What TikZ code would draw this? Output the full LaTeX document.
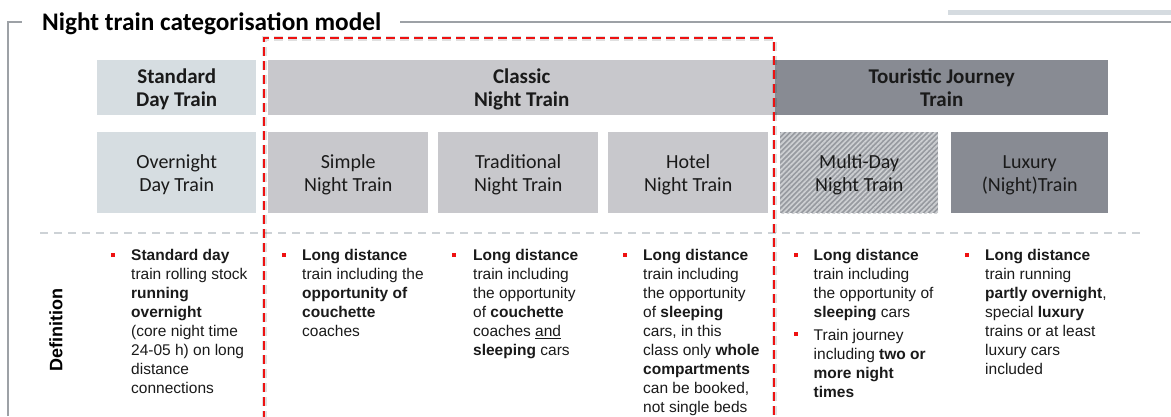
\documentclass[tikz,border=0pt]{standalone}
\usepackage{fontspec}
\setmainfont{Liberation Sans}
\newfontfamily\boxfont{Carlito}
\usetikzlibrary{patterns.meta}
\definecolor{framegray}{HTML}{9DA1A6}
\definecolor{barlight}{HTML}{D5DBE0}
\definecolor{stdfill}{HTML}{D6DDE1}
\definecolor{classicfill}{HTML}{C8C8CC}
\definecolor{tourfill}{HTML}{888B93}
\definecolor{hatchbase}{HTML}{979AA0}
\definecolor{hatchline}{HTML}{CDCFD2}
\definecolor{sepgray}{HTML}{CDD2D6}
\definecolor{redline}{HTML}{EE1111}
\definecolor{txt}{HTML}{1A1A1A}
\newcommand{\toppad}{\rule{0pt}{18pt}}
\tikzset{
  catbox/.style={anchor=north west, inner sep=0pt, minimum height=55pt, align=center,
    text=txt, font=\boxfont\bfseries\fontsize{21}{23}\selectfont},
  subbox/.style={anchor=north west, inner sep=0pt, minimum height=81pt, align=center,
    text=txt, font=\boxfont\fontsize{20}{23}\selectfont},
  bodytext/.style={anchor=north west, inner sep=0pt, align=left, text=txt,
    font=\fontsize{15.5}{19}\selectfont},
  bulletsq/.style={fill=redline, minimum size=4pt, inner sep=0pt},
}
\begin{document}
\begin{tikzpicture}[x=1pt,y=-1pt]
\useasboundingbox (0,0) rectangle (1171,416);
% frame
\coordinate (fa) at (8,416);
\coordinate (fb) at (8,22);
\coordinate (fc) at (22,22);
\draw[framegray, line width=1.5pt] (fa) -- (fb) -- (fc);
\node[anchor=base west, inner sep=0pt, text=black, font=\boxfont\bfseries\fontsize{25.3}{30}\selectfont] (title) at (42,30) {Night train categorisation model};
\coordinate (tl1) at (400,22);
\coordinate (tl2) at (1171,22);
\draw[framegray, line width=1.5pt] (tl1) -- (tl2);
\coordinate (bar1) at (948,12);
\coordinate (bar2) at (1171,12);
\draw[barlight, line width=5pt] (bar1) -- (bar2);
% row 1
\node[catbox, fill=stdfill, minimum width=159pt] (std) at (97,60) {\toppad Standard\\Day Train};
\node[catbox, fill=classicfill, minimum width=507pt] (classic) at (268,60) {\toppad Classic\\Night Train};
\node[catbox, fill=tourfill, minimum width=333pt] (tour) at (775,60) {\toppad Touristic Journey\\Train\vphantom{y}};
% row 2
\node[subbox, fill=stdfill, minimum width=159pt] (ovn) at (97,132) {\toppad Overnight\\Day Train};
\node[subbox, fill=classicfill, minimum width=160pt] (simple) at (268,132) {\toppad Simple\\Night Train};
\node[subbox, fill=classicfill, minimum width=160pt] (trad) at (438,132) {\toppad Traditional\\Night Train};
\node[subbox, fill=classicfill, minimum width=160pt] (hotel) at (608,132) {\toppad Hotel\\Night Train};
\node[subbox, fill=hatchbase, minimum width=158pt,
  postaction={pattern={Lines[angle=45,distance=3.6pt,line width=1.7pt]}, pattern color=hatchline}] (multi) at (780,132) {\toppad Multi-Day\\Night Train};
\node[subbox, fill=tourfill, minimum width=157pt] (lux) at (951,132) {\toppad Luxury\\(Night)Train};
% separator
\coordinate (s1) at (40,233);
\coordinate (s2) at (1140,233);
\draw[sepgray, line width=2pt, dash pattern=on 8pt off 6pt] (s1) -- (s2);
% red dashed frame with shadow
\coordinate (r1) at (264,420);
\coordinate (r2) at (264,38);
\coordinate (r3) at (774,38);
\coordinate (r4) at (774,420);
\draw[black, opacity=0.12, line width=5pt, dash pattern=on 9pt off 5pt, xshift=2.5pt, yshift=-2.5pt] (r1) -- (r2) -- (r3) -- (r4);
\draw[redline, line width=2.6pt, dash pattern=on 9pt off 5pt] (r1) -- (r2) -- (r3) -- (r4);
% Definition label
\node[rotate=90, inner sep=0pt, text=black, font=\bfseries\fontsize{18}{20}\selectfont] (def) at (56,330) {Definition};
% bullets
\node[bulletsq] (b1) at (113,254.5) {};
\node[bulletsq] (b2) at (284,254.5) {};
\node[bulletsq] (b3) at (454,254.5) {};
\node[bulletsq] (b4) at (625,254.5) {};
\node[bulletsq] (b5) at (796,254.5) {};
\node[bulletsq] (b5b) at (796,334) {};
\node[bulletsq] (b6) at (967,254.5) {};
% texts
\node[bodytext] (t1) at (131,249.5) {\textbf{Standard day}\\train rolling stock\\\textbf{running}\\\textbf{overnight}\\(core night time\\24-05 h) on long\\distance\\connections};
\node[bodytext] (t2) at (302,249.5) {\textbf{Long distance}\\train including the\\\textbf{opportunity of}\\\textbf{couchette}\\coaches};
\node[bodytext] (t3) at (473,249.5) {\textbf{Long distance}\\train including\\the opportunity\\of \textbf{couchette}\\coaches \underline{and}\\\textbf{sleeping} cars};
\node[bodytext] (t4) at (643,249.5) {\textbf{Long distance}\\train including\\the opportunity\\of \textbf{sleeping}\\cars, in this\\class only \textbf{whole}\\\textbf{compartments}\\can be booked,\\not single beds};
\node[bodytext] (t5) at (813.5,249.5) {\textbf{Long distance}\\train including\\the opportunity of\\\textbf{sleeping} cars};
\node[bodytext] (t5b) at (813.5,329) {Train journey\\including \textbf{two or}\\\textbf{more night}\\\textbf{times}};
\node[bodytext] (t6) at (985,249.5) {\textbf{Long distance}\\train running\\\textbf{partly overnight},\\special \textbf{luxury}\\trains or at least\\luxury cars\\included};
\end{tikzpicture}
\end{document}
